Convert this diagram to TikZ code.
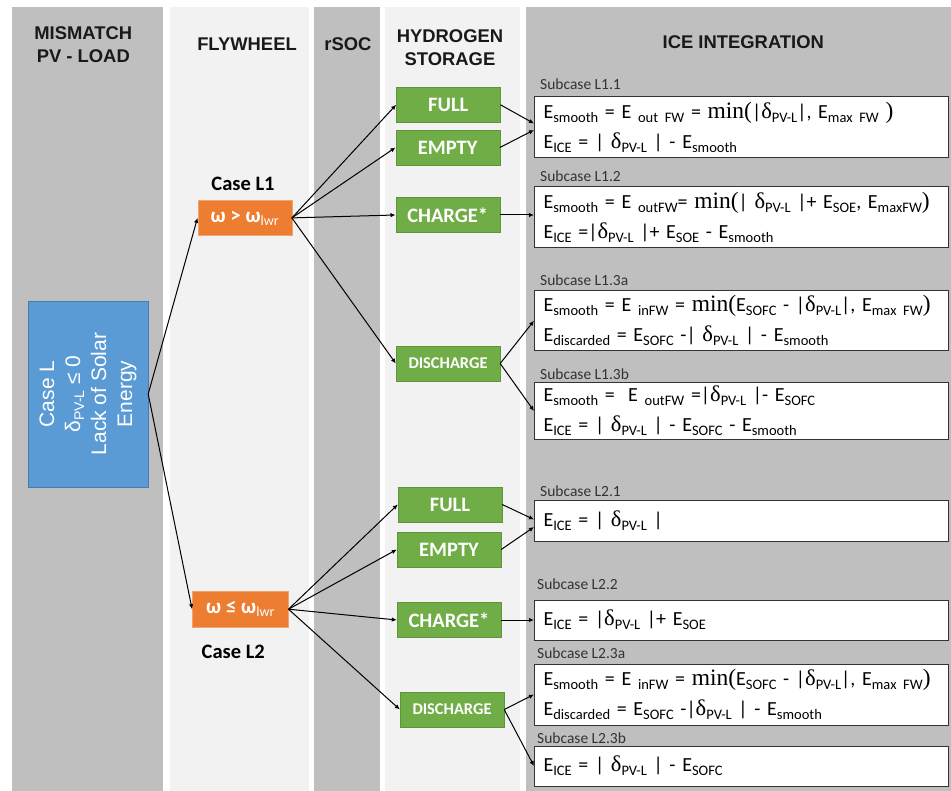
\documentclass[tikz,border=0pt]{standalone}
\usepackage{fontspec}
\setmainfont{Carlito}
\newfontfamily\arialfont{Liberation Sans}
\newfontfamily\serifgr{Liberation Serif}
\usetikzlibrary{arrows.meta}
\newcommand\sbx[1]{\raisebox{-4pt}{\fontsize{14.5}{14.5}\selectfont #1}}
\newcommand\srf[1]{{\serifgr\fontsize{23.5}{23.5}\selectfont #1}}
\newcommand\dlt{{\serifgr\fontsize{22.5}{22.5}\selectfont δ}}
\newcommand\lwr{\raisebox{-3pt}{\fontsize{14}{14}\selectfont\mdseries lwr}}
\tikzset{
  header/.style={font=\arialfont\bfseries\fontsize{18.4}{23}\selectfont, text=black!90, align=center, inner sep=0pt},
  caselabel/.style={font=\bfseries\fontsize{20.5}{20.5}\selectfont, inner sep=0pt},
  bluebox/.style={fill=colblue, draw=colblue!80!black, text=white, align=center, inner sep=0pt, font=\arialfont\fontsize{21}{26}\selectfont},
  fwbox/.style={fill=colorange, draw=colorange!70!white, text=white, inner sep=0pt, minimum height=35.5pt, font=\bfseries\fontsize{21}{21}\selectfont},
  h2box/.style={fill=colgreen, draw=colgreen!85!black, text=white, inner sep=0pt, minimum width=104pt, minimum height=35pt, font=\bfseries\fontsize{20.5}{20.5}\selectfont},
  formula/.style={draw=black!80, fill=white, line width=1pt, anchor=east, text width=396pt, inner xsep=9pt, inner ysep=0pt, align=left, font=\fontsize{20}{30}\selectfont},
  sublabel/.style={anchor=base west, inner sep=0pt, text=black!80, font=\fontsize{15.5}{15.5}\selectfont},
  flow/.style={-{Latex[length=5pt,width=4.5pt]}, line width=1pt, black}
}
\begin{document}
\begin{tikzpicture}[x=1pt, y=-1pt]
\definecolor{colgray}{HTML}{BFBFBF}
\definecolor{collight}{HTML}{F2F2F2}
\definecolor{colblue}{HTML}{5B9BD5}
\definecolor{colorange}{HTML}{ED7D31}
\definecolor{colgreen}{HTML}{70AD47}
\useasboundingbox[fill=white] (0,0) rectangle (951,791);
\fill[colgray] (11.7,7.3) rectangle (162.7,791);
\fill[collight] (170,7.3) rectangle (309,791);
\fill[colgray] (314,7.3) rectangle (380,791);
\fill[collight] (385,7.3) rectangle (520,791);
\fill[colgray] (526,7.3) rectangle (951,791);
\node[header] (hmis) at (83.3,45) {MISMATCH\\PV - LOAD};
\node[header] (hfw) at (247,44.3) {FLYWHEEL};
\node[header] (hrsoc) at (348,44.3) {rSOC};
\node[header] (hh2) at (450,47.2) {HYDROGEN\\STORAGE};
\node[header] (hice) at (743.3,41.7) {ICE INTEGRATION};
\node[bluebox, rotate=90, minimum width=186pt, minimum height=120pt] (caseL) at (88,394) {Case L\\δ\raisebox{-4pt}{\fontsize{14}{14}\selectfont PV-L} ≤ 0\\Lack of Solar\\Energy};
\node[fwbox, minimum width=94pt] (fw1) at (244.7,217.9) {ω > ω\lwr};
\node[fwbox, minimum width=96pt] (fw2) at (240.3,609.2) {ω ≤ ω\lwr};
\node[caselabel] (lab1) at (243,184.3) {Case L1};
\node[caselabel] (lab2) at (233.3,651.7) {Case L2};
\node[h2box] (full1) at (448.3,104.8) {FULL};
\node[h2box] (empty1) at (447.7,147.5) {EMPTY};
\node[h2box] (charge1) at (447.7,215) {CHARGE*};
\node[h2box, font=\bfseries\fontsize{16.4}{16.4}\selectfont] (dis1) at (448,363.5) {DISCHARGE};
\node[h2box] (full2) at (450,504.5) {FULL};
\node[h2box] (empty2) at (449,549.5) {EMPTY};
\node[h2box] (charge2) at (449,620) {CHARGE*};
\node[h2box, font=\bfseries\fontsize{16.4}{16.4}\selectfont] (dis2) at (452,709.5) {DISCHARGE};
\node[formula, minimum height=60.6pt] (b11) at (949,127) {E\sbx{smooth} = E \sbx{out FW} = \srf{min(}|\dlt\sbx{PV-L}|, E\sbx{max FW} \srf{)}\\E\sbx{ICE} = | \dlt\sbx{PV-L} | - E\sbx{smooth}};
\node[formula, minimum height=61pt] (b12) at (949,217.5) {E\sbx{smooth} = E \sbx{outFW}= \srf{min(}| \dlt\sbx{PV-L} |+ E\sbx{SOE}, E\sbx{maxFW}\srf{)}\\E\sbx{ICE} =|\dlt\sbx{PV-L} |+ E\sbx{SOE} - E\sbx{smooth}};
\node[formula, minimum height=60pt] (b13) at (949,320.7) {E\sbx{smooth} = E \sbx{inFW} = \srf{min(}E\sbx{SOFC} - |\dlt\sbx{PV-L}|, E\sbx{max FW}\srf{)}\\E\sbx{discarded} = E\sbx{SOFC} -| \dlt\sbx{PV-L} | - E\sbx{smooth}};
\node[formula, minimum height=56.6pt] (b14) at (949,411) {E\sbx{smooth} =\ \ E \sbx{outFW} =|\dlt\sbx{PV-L} |- E\sbx{SOFC}\\E\sbx{ICE} = | \dlt\sbx{PV-L} | - E\sbx{SOFC} - E\sbx{smooth}};
\node[formula, minimum height=40pt] (b21) at (949,521) {E\sbx{ICE} = | \dlt\sbx{PV-L} |};
\node[formula, minimum height=40pt] (b22) at (949,620) {E\sbx{ICE} = |\dlt\sbx{PV-L} |+ E\sbx{SOE}};
\node[formula, minimum height=61pt] (b23) at (949,694.5) {E\sbx{smooth} = E \sbx{inFW} = \srf{min(}E\sbx{SOFC} - |\dlt\sbx{PV-L}|, E\sbx{max FW}\srf{)}\\E\sbx{discarded} = E\sbx{SOFC} -|\dlt\sbx{PV-L} | - E\sbx{smooth}};
\node[formula, minimum height=40pt] (b24) at (949,766) {E\sbx{ICE} = | \dlt\sbx{PV-L} | - E\sbx{SOFC}};
\node[sublabel] (s11) at (540,89.3) {Subcase L1.1};
\node[sublabel] (s12) at (540,181.7) {Subcase L1.2};
\node[sublabel] (s13) at (540,286) {Subcase L1.3a};
\node[sublabel] (s14) at (540,379.3) {Subcase L1.3b};
\node[sublabel] (s21) at (540,496.7) {Subcase L2.1};
\node[sublabel] (s22) at (537,589.3) {Subcase L2.2};
\node[sublabel] (s23) at (537,658.3) {Subcase L2.3a};
\node[sublabel] (s24) at (537,743.3) {Subcase L2.3b};
\draw[flow] (caseL.south) -- (fw1.west);
\draw[flow] (caseL.south) -- (fw2.west);
\foreach \n in {full1,empty1,charge1,dis1} \draw[flow] (fw1.east) -- (\n.west);
\foreach \n in {full2,empty2,charge2,dis2} \draw[flow] (fw2.east) -- (\n.west);
\draw[flow] (full1.east) -- ([yshift=3.5pt]b11.west);
\draw[flow] (empty1.east) -- ([yshift=-3pt]b11.west);
\draw[flow] (charge1.east) -- (charge1.east -| b12.west);
\draw[flow] (dis1.east) -- (b13.west);
\draw[flow] (dis1.east) -- (b14.west);
\draw[flow] (full2.east) -- ([yshift=1.5pt]b21.west);
\draw[flow] (empty2.east) -- ([yshift=-6pt]b21.west);
\draw[flow] (charge2.east) -- (charge2.east -| b22.west);
\draw[flow] (dis2.east) -- (b23.west);
\draw[flow] (dis2.east) -- (b24.west);
\end{tikzpicture}
\end{document}
